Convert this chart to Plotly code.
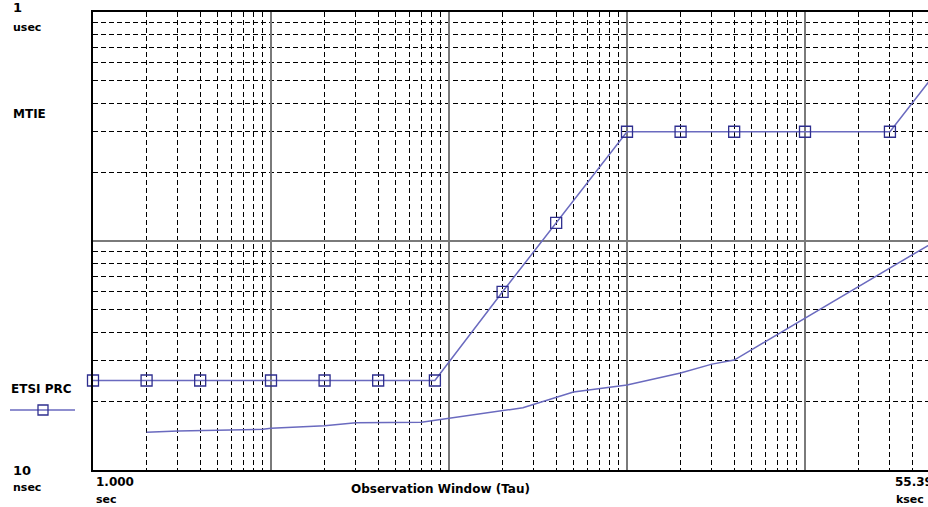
import plotly.graph_objects as go

# ETSI PRC MTIE mask (tau in s, MTIE in ns)
mask_tau = [1, 2, 4, 10, 20, 40, 83.33, 200, 400, 1000, 2000, 4000, 10000, 30000, 50000]
mask_mtie = [24.6, 24.6, 24.6, 24.6, 24.6, 24.6, 24.6, 60, 120, 300, 300, 300, 300, 300, 500]

# Measured MTIE curve
meas_tau = [2, 3, 9, 10, 20, 30, 70, 100, 260, 500, 1000, 2000, 3000, 4000, 55390]
meas_mtie = [14.6, 14.8, 15.05, 15.2, 15.6, 16.1, 16.15, 16.8, 18.7, 21.9, 23.5, 26.5, 29.0, 30.2, 101]

LINE = "#6a6abf"
MARK = "#2e2e8f"
FONT = "DejaVu Sans"

fig = go.Figure()
fig.add_trace(go.Scatter(
    x=meas_tau, y=meas_mtie, mode="lines",
    line=dict(color=LINE, width=1.5), showlegend=False, hoverinfo="skip"))
fig.add_trace(go.Scatter(
    x=mask_tau, y=mask_mtie, mode="lines+markers", name="ETSI PRC",
    line=dict(color=LINE, width=1.5),
    marker=dict(symbol="square-open", size=11, color=MARK, line=dict(width=1.3, color=MARK)),
    cliponaxis=False, showlegend=False))

grid_minor = dict(dtick="D1", showgrid=True, gridcolor="black", griddash="5px,3px",
                  gridwidth=1, ticks="")

fig.update_xaxes(type="log", range=[0, 835 / 178], dtick=1, showticklabels=False,
                 showgrid=True, gridcolor="#7a7a7a", gridwidth=1.5,
                 minor=grid_minor, showline=True, linecolor="black", linewidth=1.5,
                 mirror=True, zeroline=False, ticks="")
fig.update_yaxes(type="log", range=[1, 3], dtick=1, showticklabels=False,
                 showgrid=True, gridcolor="#7a7a7a", gridwidth=2,
                 minor=grid_minor, showline=True, linecolor="black", linewidth=1.5,
                 mirror=False, zeroline=False, ticks="")

ann = []
def txt(x, y, s, size=12, xanchor="left", bold=True):
    ann.append(dict(xref="paper", yref="paper", x=x, y=y, text=("<b>%s</b>" % s) if bold else s,
                    showarrow=False, xanchor=xanchor, yanchor="middle",
                    font=dict(family=FONT, size=size, color="black")))

W = 835.0
H = 458.0
def px(xp):  # pixel -> paper x
    return (xp - 93) / W
def py(yp):  # pixel -> paper y
    return (470 - yp) / H

txt(px(11), py(8), "1", 13)
txt(px(11), py(27), "usec", 11)
txt(px(11), py(114), "MTIE", 12)
txt(px(9), py(389), "ETSI PRC", 12)
txt(px(11), py(470), "10", 13)
txt(px(11), py(487), "nsec", 11)
txt(px(94), py(482), "1.000", 12)
txt(px(94), py(499), "sec", 11)
txt(px(440), py(489), "Observation Window (Tau)", 12, xanchor="center")
txt(px(893), py(482), "55.39", 12)
txt(px(894), py(499), "ksec", 11)

shapes = [
    dict(type="line", xref="paper", yref="paper", x0=px(10), x1=px(75), y0=py(410), y1=py(410),
         line=dict(color=LINE, width=1.5)),
    dict(type="rect", xref="paper", yref="paper", x0=px(38), x1=px(48), y0=py(405), y1=py(415),
         line=dict(color=MARK, width=1.3), fillcolor="rgba(0,0,0,0)"),
]

fig.update_layout(
    width=928, height=507,
    margin=dict(l=93, r=0, t=12, b=37),
    paper_bgcolor="white", plot_bgcolor="white",
    annotations=ann, shapes=shapes, showlegend=False,
)

fig.write_html("out.html", config={"displayModeBar": False},
               post_script="document.body.style.margin='0';document.body.style.overflow='hidden';")
